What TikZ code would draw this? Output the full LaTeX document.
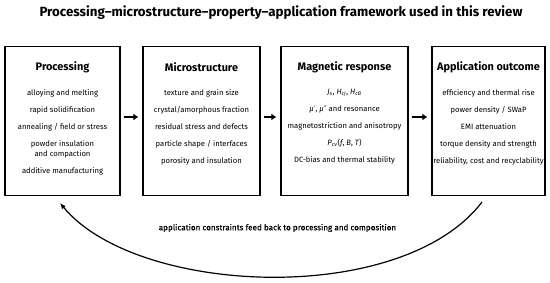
\documentclass[tikz,border=0pt]{standalone}
\usepackage{fontspec}
\setmainfont{Fira Sans}
\newfontfamily\primefont{DejaVu Sans}
\newfontfamily\labelfont[FakeBold=0.3]{Fira Sans}
\usetikzlibrary{arrows.meta,positioning}

\newcommand{\vsym}[2]{\textit{#1}\textsubscript{\textit{#2}}}

\begin{document}
\begin{tikzpicture}[x=1pt, y=-1pt,
    box/.style={draw, line width=1.2pt, minimum height=149pt, inner sep=0pt},
    head/.style={font=\fontsize{10.9}{13}\selectfont\bfseries},
    items/.style={font=\fontsize{7.65}{10}\selectfont, align=center, anchor=north, inner sep=0pt},
    flow/.style={-{Latex[length=5pt,width=7pt]}, line width=2.4pt, shorten <=3pt, shorten >=4pt},
    feedback/.style={-{Latex[length=6pt,width=5pt]}, line width=1.2pt}]
    \useasboundingbox (0,0) rectangle (550,283);

    % 1. Title
    \node[font=\fontsize{13.3}{15}\selectfont\bfseries] (title) at (281,13)
        {Processing–microstructure–property–application framework used in this review};

    % 2. The four boxes
    \node[box, minimum width=115pt] (proc) at (62.5,121) {};
    \node[box, minimum width=117pt] (micro) at (201.5,121) {};
    \node[box, minimum width=127pt] (magn) at (344.5,121) {};
    \node[box, minimum width=113pt] (outc) at (488.5,121) {};

    % 3. Headings
    \node[head] (prochead) at (62.5,67) {Processing};
    \node[head] (microhead) at (201.5,67) {Microstructure};
    \node[head] (magnhead) at (344.5,67) {Magnetic response};
    \node[head] (outchead) at (488.5,67) {Application outcome};

    % 4. Lists of items
    \node[items] (procitems) at (62.5,89.5) {alloying and melting\\[7pt]
        rapid solidification\\[7pt] annealing / field or stress\\[7pt]
        powder insulation\\ and compaction\\[7pt] additive manufacturing};
    \node[items] (microitems) at (201.5,89.5) {texture and grain size\\[7pt]
        crystal/amorphous fraction\\[7pt] residual stress and defects\\[7pt]
        particle shape / interfaces\\[7pt] porosity and insulation};
    \node[items] (magnitems) at (344.5,89.5) {\vsym{J}{s}, \vsym{H}{cJ}, \vsym{H}{cB}\\[7pt]
        \textit{μ}{\primefont ′}, \textit{μ}{\primefont ″} and resonance\\[7pt] magnetostriction and anisotropy\\[7pt]
        \vsym{P}{cv}(\textit{f}, \textit{B}, \textit{T})\\[7pt] DC-bias and thermal stability};
    \node[items] (outcitems) at (488.5,89.5) {efficiency and thermal rise\\[7pt]
        power density / SWaP\\[7pt] EMI attenuation\\[7pt]
        torque density and strength\\[7pt] reliability, cost and recyclability};

    % 5. Arrows between the boxes
    \draw[flow] ([yshift=4pt]proc.east) -- ([yshift=4pt]micro.west);
    \draw[flow] ([yshift=4pt]micro.east) -- ([yshift=4pt]magn.west);
    \draw[flow] ([yshift=4pt]magn.east) -- ([yshift=4pt]outc.west);

    % 6. Feedback loop
    \coordinate (fbfrom) at (482,202);
    \coordinate (fbto) at (60,203);
    \draw[feedback] (fbfrom) .. controls (402,307) and (137,296) .. (fbto);
    \node[font=\fontsize{8.1}{10}\selectfont\labelfont] (fblabel) at (277.5,228)
        {application constraints feed back to processing and composition};

\end{tikzpicture}
\end{document}
